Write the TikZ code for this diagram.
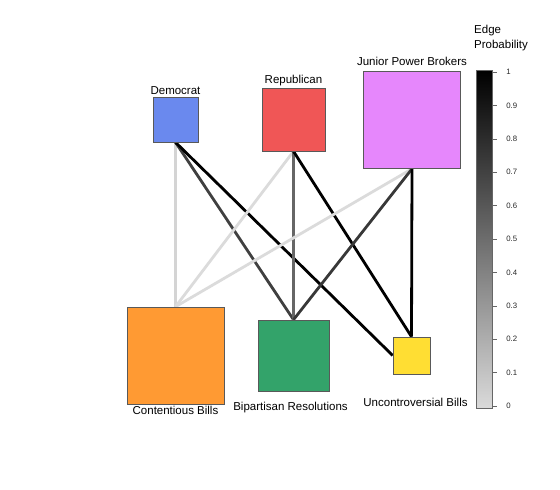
\documentclass[tikz,border=0pt]{standalone}
\usepackage{fontspec}
\setmainfont{Liberation Sans}
\usepackage{tikz}
\usetikzlibrary{positioning, backgrounds}

\definecolor{demblue}{HTML}{6A89EE}
\definecolor{repred}{HTML}{F05656}
\definecolor{jpbviolet}{HTML}{E687FC}
\definecolor{conorange}{HTML}{FF9A33}
\definecolor{bipgreen}{HTML}{33A36A}
\definecolor{uncyellow}{HTML}{FFDE33}
\definecolor{barlow}{HTML}{DADADA}

\tikzset{
  % Group / bill-type boxes
  groupbox/.style={
    rectangle, inner sep=0pt, fill=#1, draw=black!65, line width=0.6pt,
  },
  groupbox/.default={demblue},
  % Labels next to boxes
  grouplabel/.style={
    font=\fontsize{11.5}{13}\selectfont, inner sep=0pt,
    text height=8.5pt, text depth=2.5pt,
  },
  % Edges, coloured by probability
  probedge/.style={line width=2.8pt, draw=#1},
  probedge/.default={black},
  % Colour bar
  colorbar/.style={
    rectangle, inner sep=0pt, minimum width=16pt, minimum height=338pt,
    top color=black, bottom color=barlow, draw=black!60, line width=0.6pt,
  },
  ticklbl/.style={font=\fontsize{7.8}{9}\selectfont, inner sep=0pt},
}

\begin{document}
\begin{tikzpicture}[x=1pt, y=-1pt]
  \useasboundingbox (0,0) rectangle (560,490);

  % Top row
  \node[groupbox=demblue, minimum size=45pt] (dem) at (175.5, 119.5) {};
  \node[groupbox=repred, minimum size=63pt] (rep) at (293.5, 119.5) {};
  \node[groupbox=jpbviolet, minimum size=97pt] (jpb) at (412, 120) {};

  % Bottom row
  \node[groupbox=conorange, minimum size=97pt] (con) at (175.5, 355.5) {};
  \node[groupbox=bipgreen, minimum size=71pt] (bip) at (293.5, 355.5) {};
  \node[groupbox=uncyellow, minimum size=37pt] (unc) at (411.5, 355.5) {};

  % Labels
  \node[grouplabel, above=0pt of dem] (dem-lbl) {Democrat};
  \node[grouplabel, above=2pt of rep] (rep-lbl) {Republican};
  \node[grouplabel, above=3pt of jpb] (jpb-lbl) {Junior Power Brokers};
  \node[grouplabel, below=1.5pt of con] (con-lbl) {Contentious Bills};
  \node[grouplabel, below=10.5pt of bip, xshift=-3pt] (bip-lbl) {Bipartisan Resolutions};
  \node[grouplabel, below=23.5pt of unc, xshift=4pt] (unc-lbl) {Uncontroversial Bills};

  % Edges
  \begin{scope}[on background layer]
    \draw[probedge=black!17] (dem.south) -- (con.north);
    \draw[probedge=black!75] (dem.south) -- (bip.north);
    \draw[probedge] (dem.south) -- (unc.west);
    \draw[probedge=black!14] (rep.south) -- (con.north);
    \draw[probedge=black!60] (rep.south) -- (bip.north);
    \draw[probedge] (rep.south) -- (unc.north);
    \draw[probedge=black!14] (jpb.south) -- (con.north);
    \draw[probedge=black!78] (jpb.south) -- (bip.north);
    \draw[probedge] (jpb.south) -- (unc.north);
  \end{scope}

  % Colour bar
  \node[colorbar] (bar) at (484, 239) {};
  \node[grouplabel, text height=, text depth=, align=left, anchor=north west,
        font=\fontsize{11.5}{15}\selectfont] (bar-title) at (474, 25) {Edge\\Probability};
  \foreach \p in {0,0.1,0.2,0.3,0.4,0.5,0.6,0.7,0.8,0.9,1}
    \draw[black!60, line width=0.6pt] (492, {406-334*\p}) -- ++(5,0)
      node[ticklbl, right=9pt, text=black!85] {\p};

\end{tikzpicture}
\end{document}
